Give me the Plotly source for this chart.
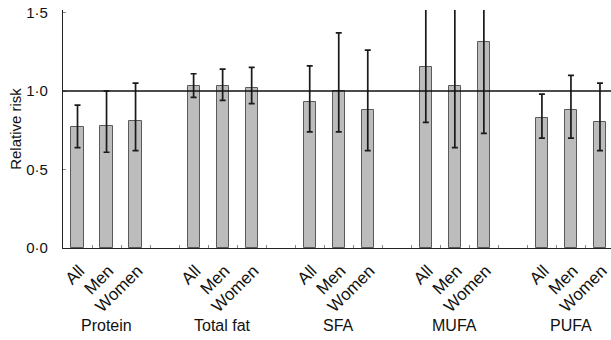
import plotly.graph_objects as go

groups = ["Protein", "Total fat", "SFA", "MUFA", "PUFA"]
subgroups = ["All", "Men", "Women"]

rr = [
    [0.77, 0.78, 0.81],
    [1.03, 1.03, 1.02],
    [0.93, 1.00, 0.88],
    [1.15, 1.03, 1.31],
    [0.83, 0.88, 0.80],
]
ci_low = [
    [0.64, 0.61, 0.62],
    [0.96, 0.94, 0.92],
    [0.74, 0.74, 0.62],
    [0.80, 0.64, 0.73],
    [0.70, 0.70, 0.62],
]
ci_high = [
    [0.91, 1.00, 1.05],
    [1.11, 1.14, 1.15],
    [1.16, 1.37, 1.26],
    [1.80, 2.00, 2.10],
    [0.98, 1.10, 1.05],
]
y_ticks = [0.0, 0.5, 1.0, 1.5]
y_tick_text = ["0·0", "0·5", "1·0", "1·5"]

slot = len(subgroups) + 1
xs, ys, up, dn, labels = [], [], [], [], []
for g in range(len(groups)):
    for i in range(len(subgroups)):
        xs.append(g * slot + i)
        ys.append(rr[g][i])
        up.append(ci_high[g][i] - rr[g][i])
        dn.append(rr[g][i] - ci_low[g][i])
        labels.append(subgroups[i])

n_slots = len(groups) * slot - 1

fig = go.Figure()
fig.add_trace(go.Bar(
    x=xs, y=ys, width=0.42,
    marker=dict(color="#bcbcbc", line=dict(color="#5a5a5a", width=1)),
    error_y=dict(type="data", array=up, arrayminus=dn, color="#1a1a1a",
                 thickness=1.7, width=3),
    showlegend=False, hoverinfo="skip",
))

fig.add_shape(type="line", xref="paper", x0=0, x1=1, yref="y", y0=1.0, y1=1.0,
              line=dict(color="#111", width=1.4))

font = "Liberation Sans, Arial, sans-serif"
for g, name in enumerate(groups):
    fig.add_annotation(x=g * slot + 1, xref="x", y=0, yref="paper", yshift=-77,
                       text=name, showarrow=False, yanchor="middle",
                       font=dict(family=font, size=16, color="#111"))

fig.update_layout(
    width=611, height=340,
    margin=dict(l=63, r=0, t=10, b=92),
    plot_bgcolor="white", paper_bgcolor="white",
    font=dict(family=font, color="#111"),
    bargap=0,
    xaxis=dict(
        range=[-0.5, n_slots - 0.62],
        tickvals=xs, ticktext=labels, tickangle=-45,
        ticks="", showgrid=False, zeroline=False, automargin=False,
        showline=True, linecolor="#222", linewidth=1.2,
        tickfont=dict(size=17, color="#111"),
        ticklabelshift=2, ticklabelstandoff=5, ticklabeloverflow="allow",
        minor=dict(tickvals=[k + 0.5 for k in range(n_slots)], ticks="inside",
                   ticklen=3, tickcolor="#888", tickwidth=1, showgrid=False),
    ),
    yaxis=dict(
        range=[0, 1.516],
        tickvals=y_ticks, ticktext=y_tick_text,
        ticks="inside", ticklen=3, tickcolor="#888",
        showgrid=False, zeroline=False, automargin=False,
        showline=True, linecolor="#222", linewidth=1.2,
        tickfont=dict(size=15, color="#111"),
        ticklabelstandoff=11,
        title=dict(text="Relative risk", font=dict(size=15, color="#111"), standoff=0),
    ),
)

fig.write_html("out.html", post_script="document.body.style.margin='0px';",
               config={"displayModeBar": False})
